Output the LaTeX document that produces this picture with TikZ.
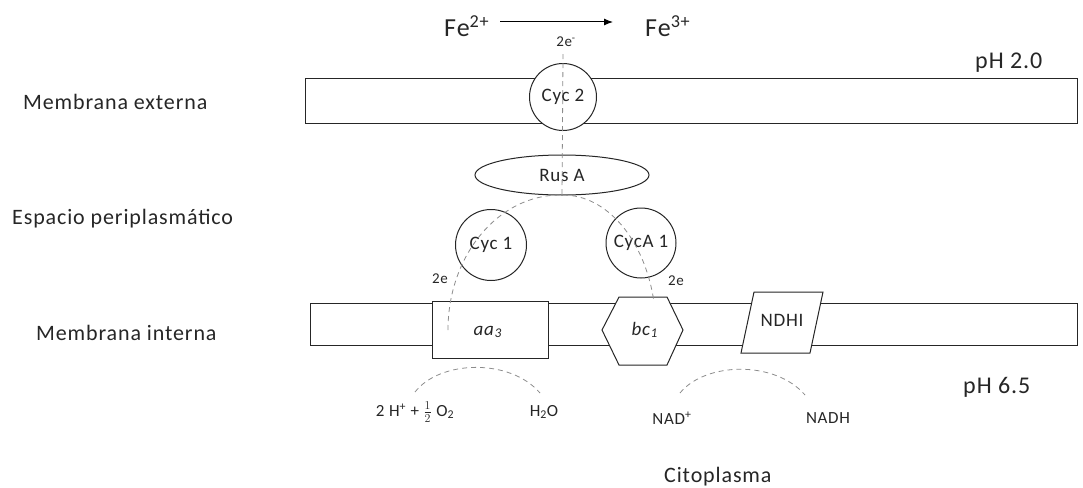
\documentclass[tikz,border=0pt]{standalone}
\usepackage{fontspec}
\setmainfont{Carlito}[LetterSpace=4]
\usetikzlibrary{arrows.meta,shapes.geometric}
\definecolor{ink}{HTML}{262626}
\definecolor{flowgray}{HTML}{8C8C8C}
\newcommand{\fsz}[1]{\fontsize{#1}{#1}\selectfont}
\begin{document}
\begin{tikzpicture}[x=1pt,y=-1pt,
  wall/.style={draw=ink,line width=1pt},
  protein/.style={draw=ink,line width=1pt,fill=white,text=ink,inner sep=0pt,font=\fsz{19}},
  flow/.style={draw=flowgray,line width=0.8pt,dash pattern=on 5pt off 4pt},
  region/.style={text=ink,inner sep=0pt,anchor=base west,font=\fsz{22}},
  small/.style={text=ink,inner sep=0pt,font=\fsz{15}},
  species/.style={text=ink,inner sep=0pt,font=\fsz{17}}]
\useasboundingbox (0,0) rectangle (1083,487);

% membranes
\draw[wall] (305,78) rectangle (1077,123);
\draw[wall] (310,303) rectangle (1077,345);

% region labels
\node[region] (mext) at (23,109) {Membrana externa};
\node[region] (peri) at (12,224) {Espacio periplasmático};
\node[region] (mint) at (36,340) {Membrana interna};
\node[region,font=\fsz{24}] (ph2) at (975,68) {pH 2.0};
\node[region,font=\fsz{24}] (ph6) at (963,393) {pH 6.5};
\node[region] (cito) at (664,482) {Citoplasma};

% iron oxidation
\node[region,font=\fsz{26}] (fe2) at (444,37) {Fe\textsuperscript{2+}};
\node[region,font=\fsz{26}] (fe3) at (645,37) {Fe\textsuperscript{3+}};
\coordinate (arrA) at (500,22);
\coordinate (arrB) at (613,22);
\draw[draw=black,line width=1pt,-{Latex[length=9pt,width=7pt]}] (arrA) -- (arrB);

% proteins
\node[protein,circle,minimum size=67pt] (cyc2) at (563,97) {Cyc 2};
\node[protein,ellipse,minimum width=174pt,minimum height=40pt] (rus) at (562,175) {Rus A};
\node[protein,circle,minimum size=71pt] (cyc1) at (491,245) {Cyc 1};
\node[protein,circle,minimum size=70pt] (cyca) at (641,243) {CycA 1};
\node[protein,rectangle,minimum width=116pt,minimum height=57pt] (aa3) at (490,329.5) {};
\node[text=ink,inner sep=0pt,font=\fsz{19}] (aa3lab) at (488,332)
  {\textit{aa}\textsubscript{\textit{3}}};
% cytochrome bc1 hexagon
\draw[wall,fill=white] (602,330) -- (619,297) -- (667,297) -- (683,330)
  -- (667,365) -- (619,365) -- cycle;
\node[inner sep=0pt,text=ink,font=\fsz{19}] (bc) at (645,330) {\textit{bc}\textsubscript{\textit{1}}};
% NADH dehydrogenase parallelogram
\draw[wall,fill=white] (754,292) -- (823,292) -- (810,353) -- (741,353) -- cycle;
\node[inner sep=0pt,text=ink,font=\fsz{19}] (ndh) at (782,320) {NDHI};

% electron path
\node[small] (etop) at (566,42) {2e\textsuperscript{-}};
\coordinate (eleft) at (448,330);
\coordinate (eright) at (563,195);
\draw[flow] (etop.south) ++(-3,7) -- (rus.south);
\draw[flow] (eleft) arc[start angle=180,end angle=90,x radius=112pt,y radius=135pt];
\draw[flow] (eright) arc[start angle=90,end angle=13,x radius=93pt,y radius=135pt];
\node[small] (e1) at (440,279) {2e};
\node[small] (e2) at (676,281) {2e};

% cytoplasmic reactions
\node[species] (ox) at (415,412) {2 H\textsuperscript{+} + $\frac{1}{2}$ O\textsubscript{2}};
\node[species] (wat) at (544,412) {H\textsubscript{2}O};
\node[species] (nadp) at (672,418) {NAD\textsuperscript{+}};
\node[species] (nadh) at (828,418) {NADH};
\coordinate (o1) at (415,392);
\coordinate (o2) at (540,393);
\coordinate (n1) at (680,393);
\coordinate (n2) at (805,395);
\draw[flow] (o1) .. controls (440,360) and (510,358) .. (o2);
\draw[flow] (n1) .. controls (705,362) and (775,360) .. (n2);
\end{tikzpicture}
\end{document}
